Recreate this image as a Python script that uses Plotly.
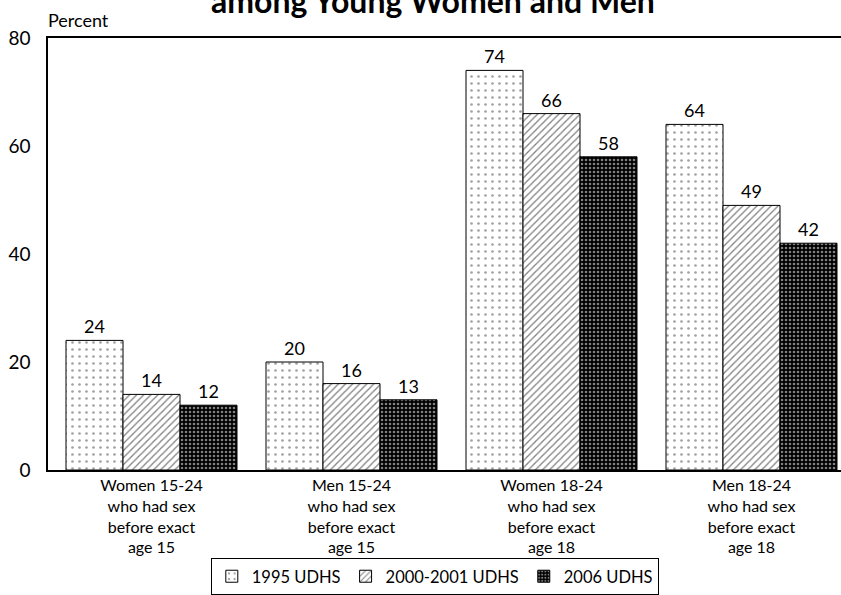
import plotly.graph_objects as go

categories = [
    "Women 15-24<br>who had sex<br>before exact<br>age 15",
    "Men 15-24<br>who had sex<br>before exact<br>age 15",
    "Women 18-24<br>who had sex<br>before exact<br>age 18",
    "Men 18-24<br>who had sex<br>before exact<br>age 18",
]
series_names = ["1995 UDHS", "2000-2001 UDHS", "2006 UDHS"]
values_1995 = [24, 20, 74, 64]
values_2000 = [14, 16, 66, 49]
values_2006 = [12, 13, 58, 42]
y_ticks = [0, 20, 40, 60, 80]

FONT = "Lato"
x_idx = list(range(len(categories)))

patterns = [
    dict(shape=".", fgcolor="#444444", bgcolor="white", size=7, solidity=0.12),
    dict(shape="/", fgcolor="black", bgcolor="white", size=5, solidity=0.25),
    dict(shape=".", fgcolor="white", bgcolor="black", size=4, solidity=0.35),
]

fig = go.Figure()
for name, vals, pat in zip(series_names, [values_1995, values_2000, values_2006], patterns):
    fig.add_trace(go.Bar(
        x=x_idx, y=vals, name=name,
        marker=dict(color=pat["bgcolor"], pattern=pat, line=dict(color="black", width=1)),
        text=vals, textposition="outside", cliponaxis=False,
        textfont=dict(family=FONT, size=18, color="black"),
    ))

fig.update_layout(
    width=841, height=595,
    margin=dict(l=48, r=0, t=38, b=125),
    paper_bgcolor="white", plot_bgcolor="white",
    barmode="group", bargap=0.145, bargroupgap=0,
    font=dict(family=FONT, size=16, color="black"),
    showlegend=True,
    legend=dict(
        orientation="h", xref="container", yref="container",
        x=0.517, xanchor="center", y=0.0, yanchor="bottom",
        bordercolor="black", borderwidth=1, bgcolor="white",
        font=dict(family=FONT, size=16.5, color="black"),
        itemwidth=30, tracegroupgap=0,
    ),
    xaxis=dict(
        range=[-0.5175, 3.4475], tickmode="array", tickvals=x_idx, ticktext=categories,
        showline=True, linecolor="black", linewidth=1.5, mirror=True,
        ticks="", showgrid=False, zeroline=False, automargin=False,
        tickfont=dict(family=FONT, size=16, color="black"),
    ),
    yaxis=dict(
        range=[0, 80], tickvals=y_ticks, showline=True, linecolor="black", linewidth=1.5,
        ticks="", showgrid=False, zeroline=False, ticklabelstandoff=12, automargin=False,
        tickfont=dict(family=FONT, size=19, color="black"),
    ),
    annotations=[
        dict(text="Percent", xref="paper", yref="paper", x=0.0, y=1.0, xanchor="left",
             yanchor="bottom", yshift=5, xshift=-2, showarrow=False,
             font=dict(family=FONT, size=18, color="black")),
        dict(text="<b>among Young Women and Men</b>", xref="paper", yref="paper",
             x=0.4855, y=1.0, xanchor="center", yanchor="bottom", yshift=16, showarrow=False,
             font=dict(family=FONT, size=32, color="black")),
    ],
)

fig.write_html("out.html", config={"displayModeBar": False},
               post_script="document.body.style.margin='0';")
